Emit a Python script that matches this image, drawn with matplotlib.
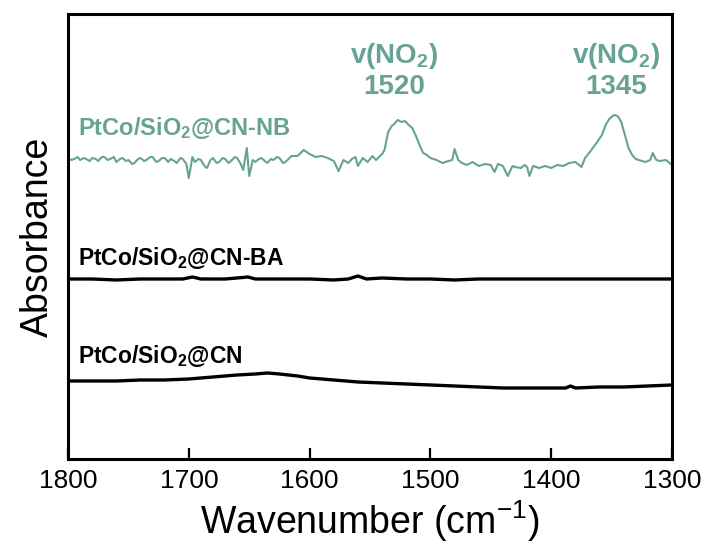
import matplotlib
matplotlib.use("Agg")
import matplotlib.pyplot as plt

plt.rcParams['font.family'] = ['Liberation Sans', 'DejaVu Sans']
plt.rcParams['mathtext.default'] = 'regular'

# spectra (absorbance in arbitrary units)
wn_nb = [1800, 1797, 1795, 1792, 1790, 1787, 1785, 1782, 1780, 1777,
         1775, 1772, 1770, 1767, 1765, 1762, 1760, 1757, 1755, 1752,
         1750, 1747, 1745, 1742, 1740, 1737, 1735, 1732, 1730, 1727,
         1725, 1722, 1720, 1717, 1715, 1712, 1710, 1707, 1705, 1702,
         1700, 1697, 1695, 1692, 1690, 1687, 1685, 1682, 1680, 1677,
         1675, 1672, 1670, 1667, 1665, 1662, 1660, 1657, 1655, 1652,
         1650, 1647, 1645, 1642, 1640, 1637, 1635, 1632, 1630, 1627,
         1625, 1622, 1620, 1615, 1610, 1605, 1600, 1595, 1590, 1585,
         1580, 1576, 1572, 1568, 1565, 1562, 1560, 1556, 1552, 1548,
         1545, 1540, 1538, 1535, 1532, 1530, 1527, 1524, 1521, 1518,
         1515, 1512, 1509, 1506, 1503, 1500, 1495, 1490, 1485, 1482,
         1480, 1477, 1474, 1470, 1465, 1460, 1455, 1450, 1447, 1444,
         1440, 1436, 1432, 1430, 1425, 1422, 1420, 1418, 1415, 1410,
         1405, 1400, 1395, 1390, 1385, 1380, 1375, 1372, 1368, 1365,
         1362, 1358, 1355, 1352, 1348, 1345, 1342, 1339, 1336, 1333,
         1330, 1325, 1322, 1318, 1316, 1313, 1310, 1305, 1300]
abs_nb = [3.01, 2.99, 3.00, 3.02, 2.99, 3.01, 3.00, 2.98, 3.01, 3.00,
          2.98, 3.02, 3.02, 2.99, 3.00, 3.02, 2.97, 3.00, 3.01, 2.98,
          2.99, 2.95, 2.96, 3.00, 3.01, 2.98, 2.99, 3.02, 3.02, 2.97,
          2.98, 3.01, 3.01, 2.97, 3.00, 2.98, 2.96, 3.01, 3.00, 2.95,
          2.81, 3.02, 2.97, 3.00, 2.99, 2.93, 2.91, 2.99, 3.01, 2.96,
          2.97, 3.01, 3.00, 2.96, 2.98, 3.02, 3.01, 2.95, 2.89, 3.11,
          2.83, 2.99, 2.97, 3.00, 3.01, 2.98, 2.96, 3.00, 2.99, 3.02,
          3.01, 2.96, 2.97, 3.03, 3.03, 3.09, 3.05, 3.02, 3.03, 3.01,
          2.98, 2.88, 2.99, 2.96, 3.00, 3.02, 2.93, 3.01, 2.97, 3.03,
          2.99, 3.05, 3.09, 3.27, 3.33, 3.35, 3.39, 3.37, 3.38, 3.34,
          3.31, 3.23, 3.14, 3.06, 3.04, 3.01, 2.99, 2.96, 2.98, 2.99,
          3.10, 2.99, 2.96, 2.94, 2.97, 2.93, 2.95, 2.94, 2.87, 2.95,
          2.93, 2.83, 2.93, 2.92, 2.91, 2.94, 2.92, 2.83, 2.93, 2.91,
          2.93, 2.91, 2.94, 2.93, 2.96, 2.97, 2.92, 3.01, 3.07, 3.12,
          3.17, 3.24, 3.34, 3.40, 3.44, 3.43, 3.37, 3.24, 3.11, 3.04,
          3.00, 2.98, 2.97, 2.99, 3.06, 2.99, 2.98, 2.99, 2.94]

wn_ba = [1800, 1780, 1760, 1740, 1720, 1705, 1697, 1690, 1670, 1660,
         1651, 1645, 1620, 1600, 1580, 1568, 1560, 1553, 1540, 1520,
         1500, 1480, 1460, 1440, 1420, 1400, 1380, 1360, 1340, 1320, 1300]
abs_ba = [1.80, 1.80, 1.79, 1.80, 1.80, 1.80, 1.82, 1.80, 1.80, 1.81,
          1.82, 1.80, 1.80, 1.80, 1.79, 1.80, 1.83, 1.80, 1.81, 1.80,
          1.80, 1.79, 1.80, 1.80, 1.80, 1.80, 1.80, 1.80, 1.80, 1.80, 1.80]

wn_cn = [1800, 1780, 1760, 1740, 1720, 1700, 1680, 1660, 1645, 1635,
         1625, 1610, 1600, 1580, 1560, 1540, 1520, 1500, 1480, 1460,
         1440, 1420, 1400, 1388, 1384, 1380, 1360, 1340, 1320, 1300]
abs_cn = [0.78, 0.78, 0.78, 0.79, 0.79, 0.80, 0.82, 0.84, 0.85, 0.86,
          0.85, 0.83, 0.81, 0.79, 0.77, 0.76, 0.75, 0.74, 0.73, 0.72,
          0.71, 0.71, 0.71, 0.71, 0.73, 0.71, 0.72, 0.72, 0.73, 0.74]

xticks = [1800, 1700, 1600, 1500, 1400, 1300]
teal = '#67a395'

fig = plt.figure(figsize=(7.1, 5.47), dpi=100)
ax = fig.add_axes([0.0958, 0.1609, 0.8507, 0.8135])

ax.plot(wn_nb, abs_nb, color=teal, lw=1.5)
ax.plot(wn_ba, abs_ba, color='black', lw=2.4)
ax.plot(wn_cn, abs_cn, color='black', lw=2.4)

ax.set_xlim(1800, 1300)
ax.set_ylim(0, 4.45)
ax.set_xticks(xticks)
ax.set_yticks([])
ax.tick_params(axis='x', direction='in', length=8, width=1.6, labelsize=19, pad=7)
for s in ax.spines.values():
    s.set_linewidth(2.2)

ax.set_xlabel('Wavenumber (cm$^{-1}$)', fontsize=27, labelpad=4)
ax.set_ylabel('Absorbance', fontsize=27, labelpad=9)

ax.text(1792, 3.31, 'PtCo/SiO$_2$@CN-NB', color=teal, fontsize=17,
        fontweight='bold', va='center', ha='left')
ax.text(1792, 2.01, 'PtCo/SiO$_2$@CN-BA', color='black', fontsize=16.5,
        fontweight='bold', va='center', ha='left')
ax.text(1792, 1.03, 'PtCo/SiO$_2$@CN', color='black', fontsize=16.5,
        fontweight='bold', va='center', ha='left')

# peak annotations
for pos, lab in [(1530, '1520'), (1346, '1345')]:
    ax.text(pos, 4.03, 'v(NO$_2$)', color=teal, fontsize=20,
            fontweight='bold', ha='center', va='center')
    ax.text(pos, 3.72, lab, color=teal, fontsize=20,
            fontweight='bold', ha='center', va='center')

fig.savefig('out.png', dpi=100)
